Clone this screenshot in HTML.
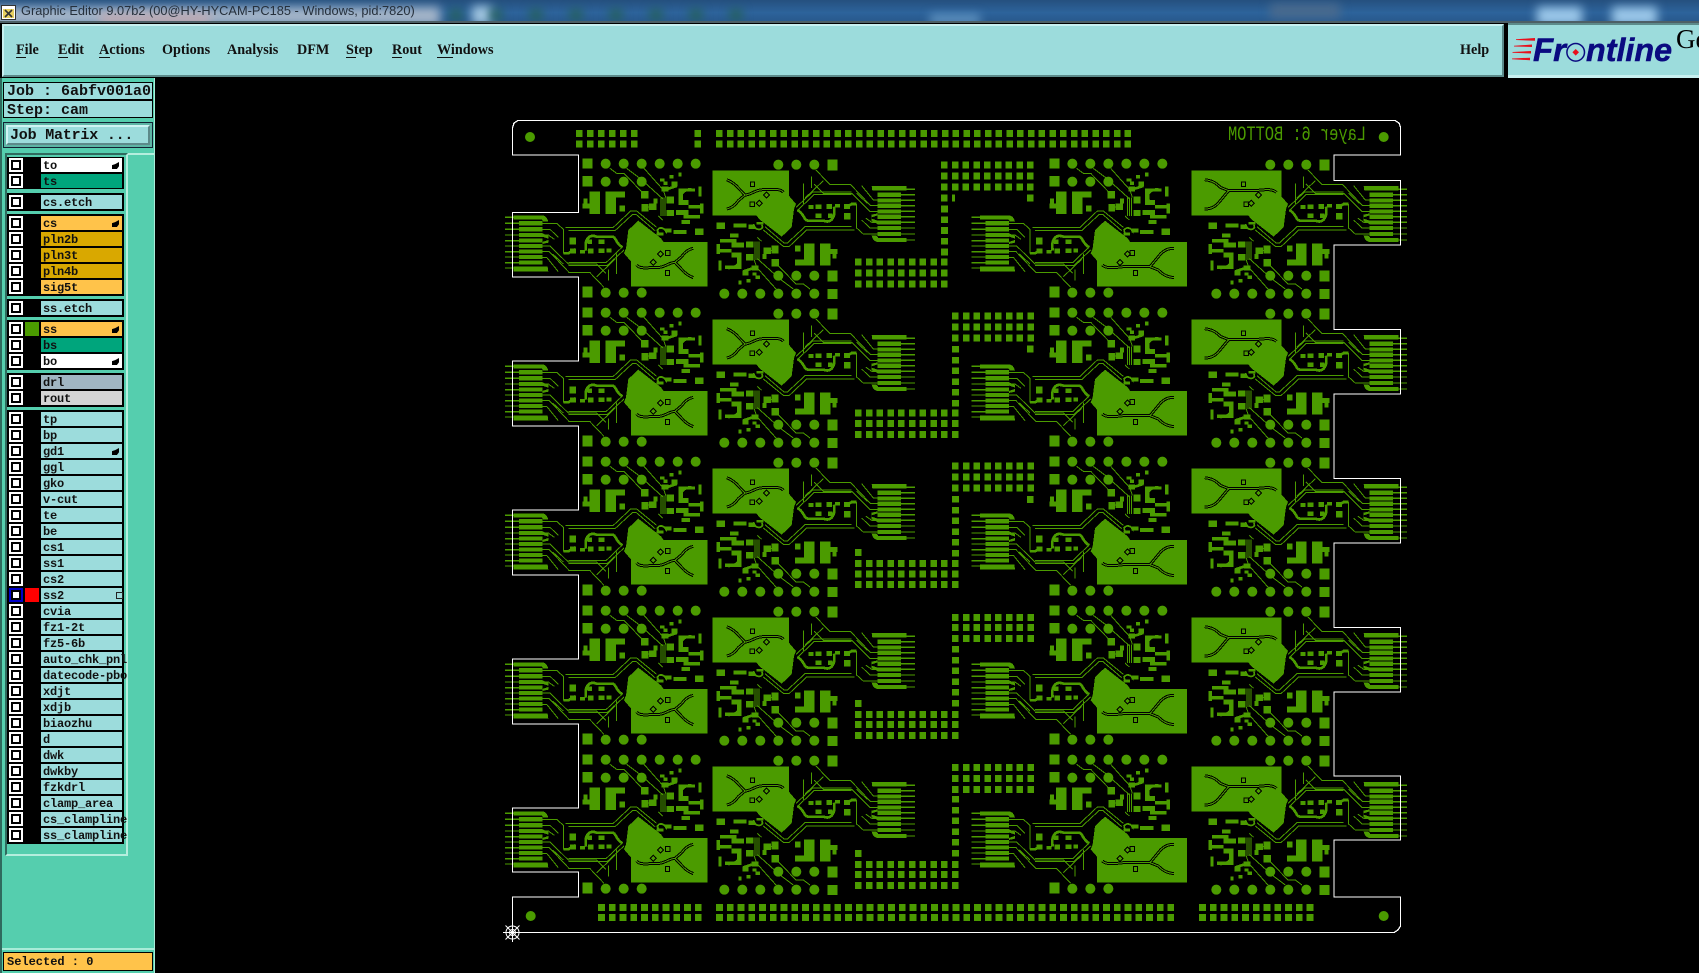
<!DOCTYPE html>
<html lang="en"><head><meta charset="utf-8"><title>Graphic Editor</title>
<style>
html,body{margin:0;padding:0;background:#000;width:1699px;height:973px;overflow:hidden}
body{position:relative;font-family:"Liberation Serif",serif}
div{box-sizing:border-box}
.a{position:absolute}
#tb{left:0;top:0;width:1699px;height:21px;overflow:hidden;background:linear-gradient(#25507f,#2d639b 60%,#28598d)}
#tb .p{position:absolute;filter:blur(5px)}
#tt{position:absolute;left:21px;top:3px;font:12.8px "Liberation Sans",sans-serif;color:#26303c;white-space:nowrap}
#mn{left:2px;top:24px;width:1502px;height:53px;background:#9cdcdc;border-top:2px solid #c8f0f0;border-left:2px solid #c8f0f0;border-bottom:2px solid #5c8a8a;border-right:2px solid #5c8a8a}
.m{position:absolute;top:42px;font:bold 14.2px "Liberation Serif",serif;color:#111;white-space:nowrap}
.u{position:absolute;top:57px;height:1px;background:#111}
#lg{left:1508px;top:23px;width:191px;height:55px;background:#9cdcdc;border-top:2px solid #5c8a8a;border-bottom:3px solid #c8f0f0}
#lp{left:0;top:78px;width:155px;height:895px;background:#55ceae;border-left:2px solid #2f6a5e;border-right:1px solid #a8ecd8}
.f{position:absolute;left:3px;width:150px;background:#9cdcdc;border:1px solid #000;font:bold 15px "Liberation Mono",monospace;color:#111;white-space:pre;padding-left:3px}
#lst{left:5px;top:153px;width:123px;height:703px;border-top:2px solid #2f6a5e;border-left:2px solid #2f6a5e;border-right:2px solid #b5eede;border-bottom:2px solid #b5eede;background:#55ceae;overflow:hidden}
.g{position:absolute;left:7px;width:117px;background:#000}
.r{position:absolute;left:0;width:126px;height:14px;overflow:visible}
.r i{position:absolute;left:9px;top:0;width:14px;height:14px;background:#fff;display:block}
.r i:after{content:"";position:absolute;left:2px;top:2px;width:6px;height:6px;border:2px solid #000;background:#fff}
.r b{box-sizing:border-box;position:absolute;left:41px;top:0;width:81px;height:14px;background:#9cdcdc;font:bold 12px/16px "Liberation Mono",monospace;color:#111;padding-left:2px;white-space:nowrap;letter-spacing:-.2px}
.r u{position:absolute;left:112px;top:4px;width:7px;height:7px;background:#000;clip-path:polygon(0 100%,0 45%,45% 30%,100% 0,100% 60%,70% 100%);display:block}
.r s{position:absolute;left:25px;top:0;width:14px;height:14px;display:block}
</style></head><body>

<div class="a" id="tb">
 <div class="p" style="left:-10px;top:7px;width:450px;height:18px;background:#a6b6c9"></div>
 <div class="p" style="left:100px;top:14px;width:110px;height:10px;background:#c3a9b0"></div>
 <div class="p" style="left:472px;top:6px;width:20px;height:18px;background:#a4c8e2"></div>
 <div class="p" style="left:450px;top:9px;width:300px;height:12px;background:repeating-linear-gradient(90deg,#24605a 0 12px,transparent 12px 40px)"></div>
 <div class="p" style="left:1270px;top:4px;width:70px;height:14px;background:#4a6a8c"></div>
 <div class="p" style="left:930px;top:15px;width:50px;height:8px;background:#6ca0cc"></div>
 <div class="p" style="left:1537px;top:7px;width:45px;height:18px;background:#9cc8ea"></div>
 <div class="p" style="left:1612px;top:7px;width:45px;height:18px;background:#9cc8ea"></div>
 <div id="tt">Graphic Editor 9.07b2 (00@HY-HYCAM-PC185 - Windows, pid:7820)</div>
</div>
<div class="a" style="left:0;top:21px;width:1699px;height:2px;background:#4d5f66"></div>
<svg class="a" style="left:1px;top:5px" width="15" height="15"><rect x=".5" y=".5" width="14" height="14" fill="#fff" stroke="#333"/><rect x="2" y="4" width="11" height="9" fill="#e8d060"/><path d="M4 5l7 7M11 5l-7 7" stroke="#333" stroke-width="1.6"/></svg>

<div class="a" id="mn"></div>
<span class="m" style="left:16px">File</span><span class="m" style="left:58px">Edit</span><span class="m" style="left:99px">Actions</span><span class="m" style="left:162px">Options</span><span class="m" style="left:227px">Analysis</span><span class="m" style="left:297px">DFM</span><span class="m" style="left:346px">Step</span><span class="m" style="left:392px">Rout</span><span class="m" style="left:437px">Windows</span><span class="m" style="left:1460px">Help</span>
<div class="u" style="left:16px;width:10px"></div><div class="u" style="left:58px;width:10px"></div><div class="u" style="left:99px;width:11px"></div><div class="u" style="left:346px;width:10px"></div><div class="u" style="left:392px;width:10px"></div><div class="u" style="left:437px;width:16px"></div>

<div class="a" id="lg"></div>
<svg class="a" style="left:1508px;top:23px" width="191" height="55">
 <path d="M8 16.2L27 15V17.8L8 17zM6 22.8L24 21.5V24L6 23.5zM4.5 29L23 28V30.5L4.5 29.8zM4 35.5L22 34.7V37.2L4 36.3z" fill="#e8101c"/>
 <text x="25" y="38" font-family="Liberation Sans" font-weight="bold" font-style="italic" font-size="32" fill="#0a0a80" stroke="#0a0a80" stroke-width=".5" textLength="33" lengthAdjust="spacingAndGlyphs">Fr</text>
 <circle cx="67.7" cy="29.3" r="8.8" fill="none" stroke="#0a0a80" stroke-width="1.5"/><path d="M67.7 26l3.3 3.3-3.3 3.3-3.3-3.3z" fill="#e8101c"/>
 <text x="78" y="38" font-family="Liberation Sans" font-weight="bold" font-style="italic" font-size="32" fill="#0a0a80" stroke="#0a0a80" stroke-width=".5" textLength="86" lengthAdjust="spacingAndGlyphs">ntline</text>
 <text x="168" y="25" font-family="Liberation Serif" font-size="27" fill="#000">Genesis</text>
</svg>

<div class="a" id="lp"></div>
<div class="f" style="top:82px;height:18px;line-height:18px">Job : 6abfv001a0</div>
<div class="f" style="top:100px;height:18px;line-height:20px">Step: cam</div>
<div class="a" style="left:3px;top:122px;width:150px;height:26px;background:#5db5a5;border:1px solid #123"></div>
<div class="a" style="left:6px;top:125px;width:144px;height:20px;background:#9cdcdc;border-top:2px solid #d0f4f4;border-left:2px solid #d0f4f4;border-right:2px solid #5c8a8a;border-bottom:2px solid #5c8a8a;font:bold 15px/17px 'Liberation Mono',monospace;color:#111;padding-left:2px;white-space:pre;letter-spacing:-.2px">Job Matrix ...</div>
<div class="a" style="left:128px;top:153px;width:26px;height:2px;background:#b5eede"></div>
<div class="a" id="lst"></div>
<div class="g" style="top:157px;height:32px"></div><div class="g" style="top:193px;height:18px"></div><div class="g" style="top:214px;height:82px"></div><div class="g" style="top:299px;height:18px"></div><div class="g" style="top:320px;height:50px"></div><div class="g" style="top:373px;height:34px"></div><div class="g" style="top:410px;height:434px"></div>

<div class="r" style="top:158px"><i></i><b style="background:#fff">to</b><u></u></div>
<div class="r" style="top:174px"><i></i><b style="background:#00a57c">ts</b></div>
<div class="r" style="top:195px"><i></i><b>cs.etch</b></div>
<div class="r" style="top:216px"><i></i><b style="background:#ffc34a">cs</b><u></u></div>
<div class="r" style="top:232px"><i></i><b style="background:#d9a800">pln2b</b></div>
<div class="r" style="top:248px"><i></i><b style="background:#d9a800">pln3t</b></div>
<div class="r" style="top:264px"><i></i><b style="background:#d9a800">pln4b</b></div>
<div class="r" style="top:280px"><i></i><b style="background:#ffc34a">sig5t</b></div>
<div class="r" style="top:301px"><i></i><b>ss.etch</b></div>
<div class="r" style="top:322px"><i></i><s style="background:#4b9b00"></s><b style="background:#ffc34a">ss</b><u></u></div>
<div class="r" style="top:338px"><i></i><b style="background:#00a57c">bs</b></div>
<div class="r" style="top:354px"><i></i><b style="background:#fff">bo</b><u></u></div>
<div class="r" style="top:375px"><i></i><b style="background:#a0b6c2">drl</b></div>
<div class="r" style="top:391px"><i></i><b style="background:#d4d4d4">rout</b></div>
<div class="r" style="top:412px"><i></i><b>tp</b></div>
<div class="r" style="top:428px"><i></i><b>bp</b></div>
<div class="r" style="top:444px"><i></i><b>gd1</b><u></u></div>
<div class="r" style="top:460px"><i></i><b>ggl</b></div>
<div class="r" style="top:476px"><i></i><b>gko</b></div>
<div class="r" style="top:492px"><i></i><b>v-cut</b></div>
<div class="r" style="top:508px"><i></i><b>te</b></div>
<div class="r" style="top:524px"><i></i><b>be</b></div>
<div class="r" style="top:540px"><i></i><b>cs1</b></div>
<div class="r" style="top:556px"><i></i><b>ss1</b></div>
<div class="r" style="top:572px"><i></i><b>cs2</b></div>
<div class="r" style="top:588px"><i style="background:#0000c8"></i><s style="background:#f00"></s><b>ss2</b><span class="a" style="left:116px;top:4px;width:5px;height:5px;border:1px solid #222"></span></div>
<div class="r" style="top:604px"><i></i><b>cvia</b></div>
<div class="r" style="top:620px"><i></i><b>fz1-2t</b></div>
<div class="r" style="top:636px"><i></i><b>fz5-6b</b></div>
<div class="r" style="top:652px"><i></i><b>auto_chk_pnl</b></div>
<div class="r" style="top:668px"><i></i><b>datecode-pbo</b></div>
<div class="r" style="top:684px"><i></i><b>xdjt</b></div>
<div class="r" style="top:700px"><i></i><b>xdjb</b></div>
<div class="r" style="top:716px"><i></i><b>biaozhu</b></div>
<div class="r" style="top:732px"><i></i><b>d</b></div>
<div class="r" style="top:748px"><i></i><b>dwk</b></div>
<div class="r" style="top:764px"><i></i><b>dwkby</b></div>
<div class="r" style="top:780px"><i></i><b>fzkdrl</b></div>
<div class="r" style="top:796px"><i></i><b>clamp_area</b></div>
<div class="r" style="top:812px"><i></i><b>cs_clampline</b></div>
<div class="r" style="top:828px"><i></i><b>ss_clampline</b></div>

<div class="a" style="left:2px;top:948px;width:152px;height:2px;background:#a8ecd8"></div>
<div class="f" style="top:952px;height:19px;background:#ffc34a;font-size:12px;line-height:18px;padding-left:3px">Selected : 0</div>

<svg class="a" style="left:0;top:0" width="1699" height="973" shape-rendering="crispEdges">
<defs>
 <g id="C" fill="#4b9b00" stroke="none">
  <path d="M248 145h30v30h-30zM248 198h30v32h-30zM248 530h30v33h-30zM268 245h32v67h-32zM248 280h20v15h-20zM250 266h12v14h-12zM316 245h32v67h-32zM348 245h27v18h-27zM358 287h17v18h-17zM423 243h22v22h-22zM425 282h20v23h-20zM447 280h22v20h-22zM460 265h12v15h-12zM500 260h22v20h-22zM500 300h22v18h-22zM208 383h20v20h-20zM210 415h18v15h-18zM262 388h14v14h-14zM296 388h18v14h-18zM296 415h18v14h-18zM264 415h16v15h-16zM320 415h14v12h-14zM240 420h15v10h-15z"/>
  <path d="M508 195h12v10h-12zM535 188h10v12h-10zM485 230h20v15h-20zM515 215h17v15h-17zM535 235h50v10h-50zM535 245h14v35h-14zM535 270h30v15h-30zM528 300h37v15h-37zM565 285h35v10h-35zM550 315h50v10h-50zM595 230h10v30h-10zM600 280h10v30h-10zM520 360h40v12h-40zM585 355h25v20h-25zM495 355h20v13h-20zM480 205h14v10h-14zM490 215h12v10h-12zM545 330h25v12h-25z"/>
  <path d="M317 161h.1M371 161h.1M425 161h.1M479 161h.1M533 161h.1M587 161h.1M317 215h.1M371 215h.1M425 215h.1M317 548h.1M371 548h.1M425 548h.1" stroke="#4b9b00" stroke-width="30" stroke-linecap="round" fill="none" shape-rendering="auto"/>
  <g fill="none" stroke="#4b9b00" stroke-width="4">
   <path d="M15 322H57M15 340H57M15 358H57M15 375H57M15 392H57M15 408H57M15 425H57M15 441H57M15 458H57M15 474H57"/>
  </g>
  <g fill="none" stroke="#4b9b00" stroke-width="12.5">
   <path d="M57 340H127M57 358H127M57 375H127M57 392H127M57 408H127M57 425H127M57 441H127M57 458H127"/>
  </g>
  <path d="M40 316H125Q140 316 145 335H130L125 328H40zM40 470H143L145 484H40zM127 396L145 390V398L127 402zM127 370L145 378V386L127 380z"/>
  <g fill="none" stroke="#4b9b00" stroke-width="3">
   <path d="M127 340H170L190 358V430M127 358H150L175 382M127 375H145L163 388M127 408H150L205 462H290L318 490M127 425H148L208 488H270L312 532M127 442H140L175 485M158 432L190 462"/>
   <path d="M197 352H340L392 303H410L470 352M205 362H345L398 313H408L465 362M205 458H318L366 412M205 466H322L372 420M290 500L345 448M325 478V512M350 430V492"/>
   <path d="M330 175L350 190H372L425 245M380 175L420 205L490 268M432 175L490 240L497 262M483 262V318M489 262V318M495 262V318M475 318L488 330"/>
   <path d="M470 360C480 350 495 355 500 370"/>
  </g>
  <g fill="none" stroke="#4b9b00" stroke-width="8">
   <path d="M258 422C252 385 270 372 290 380H335C350 380 345 400 368 412"/>
   <path d="M190 430H205L225 418M548 275C535 255 548 238 575 238M430 300L445 288M470 372L490 372M505 236L530 228"/>
   <path d="M475 368C465 355 490 345 498 365" stroke-width="5"/>
   <path d="M226 320h.1M218 328h.1M258 342h.1M276 342h.1M367 315h.1M224 442h.1M250 442h.1M250 478h.1M224 478h.1M320 490h.1M350 490h.1M528 551h.1M590 215h.1M505 185h.1M455 325h.1M595 330h.1M620 375h.1M610 345h.1M575 375h.1M545 385h.1M435 360h.1M375 348h.1M360 385h.1M175 415h.1M155 438h.1M172 482h.1M585 260h.1M510 335h.1M480 345h.1M385 500h.1" stroke-width="5"/>
  </g>
  <path d="M415 332L483 385L490 395V425L415 480L372 430L378 415L385 360Z"/>
 </g>
 <g id="A" transform="translate(500,110) scale(.33333)">
  <use href="#C"/>
  <rect x="393" y="396" width="230" height="134" fill="#4b9b00"/>
  <g fill="none" stroke="#000" stroke-width="9"><path d="M410 465C420 478 440 472 470 473C495 473 505 458 525 457L545 440C555 425 565 418 580 415M525 457L545 478C555 490 565 497 580 503"/></g>
  <g fill="none" stroke="#4b9b00" stroke-width="3"><path d="M410 465C420 478 440 472 470 473C495 473 505 458 525 457L545 440C555 425 565 418 580 415M525 457L545 478C555 490 565 497 580 503"/></g>
  <g fill="none" stroke="#000" stroke-width="3"><path d="M460 448l9 9-9 9-9-9zM482 423l9 9-9 9-9-9zM496 422h14v14h-14zM497 482h12v14h-12z"/></g>
 </g>
 <g id="B" transform="translate(500,110) scale(.33333)">
  <use href="#C"/>
  <rect x="391" y="396" width="270" height="134" fill="#4b9b00"/>
  <g fill="none" stroke="#000" stroke-width="9"><path d="M407 465C420 478 450 472 470 470H550L575 440C590 420 605 415 622 415M550 470L575 480C590 495 600 500 622 503"/></g>
  <g fill="none" stroke="#4b9b00" stroke-width="3"><path d="M407 465C420 478 450 472 470 470H550L575 440C590 420 605 415 622 415M550 470L575 480C590 495 600 500 622 503"/></g>
  <g fill="none" stroke="#000" stroke-width="3"><path d="M460 448l9 9-9 9-9-9zM482 423l9 9-9 9-9-9zM490 422h14v14h-14zM500 482h12v14h-12z"/></g>
 </g>
 <g id="R">
  <use href="#A"/>
  <use href="#A" transform="rotate(180 710 228.67)"/>
  <use href="#B" transform="translate(466.67,0)"/>
  <use href="#B" transform="rotate(180 1189.33 228.67) translate(466.67,0)"/>
 </g>
</defs>

<use href="#R"/>
<use href="#R" transform="translate(0,149)"/>
<use href="#R" transform="translate(0,298)"/>
<use href="#R" transform="translate(0,447)"/>
<use href="#R" transform="translate(0,596)"/>

<!-- pad grids -->
<g fill="none" stroke="#4b9b00" stroke-width="6.7">
 <path stroke-dasharray="6.7 4.05" d="M716 133.5H1131M716 144H1131"/>
 <path stroke-dasharray="6.5 4.5" d="M576 133.5H638M576 144H638"/>
 <path d="M694.5 133.5H701M694.5 144H701"/>
 <path stroke-dasharray="6.8 3.95" d="M598 907.5H702M598 917.5H702M716 907.5H1174M716 917.5H1174M1199 907.5H1314M1199 917.5H1314"/>
 <!-- row 0 -->
 <path stroke-dasharray="6.7 4.05" d="M941 165H1034M941 176H1034M941 187H1034M941 198H955M1027 198H1034M855 262H949M855 273H949M855 284H949"/>
 <path stroke-dasharray="6.7 4.05" d="M944.5 205.7V256"/>
 <!-- row 1 -->
 <path stroke-dasharray="6.7 4.05" d="M952 316H1034M952 327H1034M952 338H1034M1027 349H1034M855 413H959M855 423.5H959M855 434.5H959"/>
 <path stroke-dasharray="6.7 4.05" d="M955.5 346V407"/>
 <!-- row 2 -->
 <path stroke-dasharray="6.7 4.05" d="M952 466H1034M952 477H1034M952 488H1034M1027 499.5H1034M855 552.5H862M855 563.5H959M855 574H959M855 584.5H959"/>
 <path stroke-dasharray="6.7 4.05" d="M955.5 496V558"/>
 <!-- row 3 -->
 <path stroke-dasharray="6.7 4.05" d="M952 617.5H1034M952 627.5H1034M952 638.5H1034M855 703.5H862M855 714.5H959M855 724.5H959M855 735.5H959"/>
 <path stroke-dasharray="6.7 4.05" d="M955.5 646V708"/>
 <!-- row 4 -->
 <path stroke-dasharray="6.7 4.05" d="M952 767.5H1034M952 778.5H1034M952 789.5H1034M855 853.5H862M855 864.5H959M855 874.5H959M855 885.5H959"/>
 <path stroke-dasharray="6.7 4.05" d="M955.5 796V858"/>
</g>

<!-- corner fiducials -->
<g fill="#4b9b00" shape-rendering="auto"><circle cx="530" cy="137" r="5"/><circle cx="1383.7" cy="137" r="5"/><circle cx="530.7" cy="916" r="5"/><circle cx="1383.7" cy="916" r="5"/></g>

<!-- mirrored layer label -->
<text transform="translate(1366,140) scale(-1,1)" font-family="Liberation Mono" font-size="20" fill="#4b9b00" textLength="138" lengthAdjust="spacingAndGlyphs">Layer 6: BOTTOM</text>

<!-- board outline -->
<path fill="none" stroke="#fff" stroke-width="1.3" d="M512.5 128L514 123L518 120.5H1395L1399 123L1400.5 127V155H1334V180.5H1400.5V245H1334V329.5H1400.5V394H1334V478.5H1400.5V543H1334V627.5H1400.5V692H1334V776H1400.5V840H1334V897H1400.5V926L1398 930L1394 932.5H512.5V897H578.5V872H512.5V808H578.5V724H512.5V659H578.5V575H512.5V510H578.5V426H512.5V361H578.5V277H512.5V212.5H578.5V155H512.5Z"/>

<!-- origin marker -->
<g stroke="#fff" fill="none" stroke-width="1" shape-rendering="auto"><circle cx="512.5" cy="932.5" r="6.5"/><circle cx="512.5" cy="932.5" r="3"/><path d="M503 932.5H522M512.5 923V942M505.5 925.5L519.5 939.5M519.5 925.5L505.5 939.5"/></g>
</svg>
</body></html>
